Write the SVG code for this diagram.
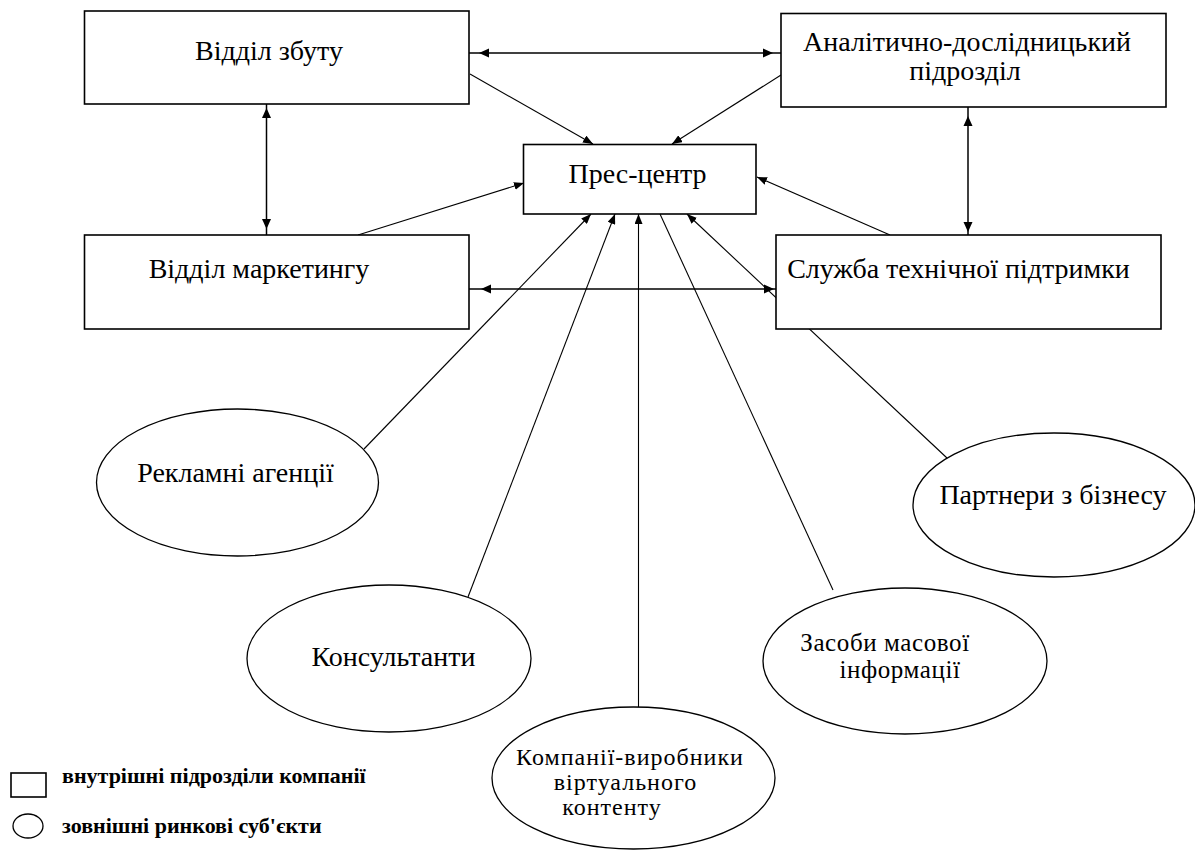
<svg xmlns="http://www.w3.org/2000/svg" xmlns:xlink="http://www.w3.org/1999/xlink" width="1195" height="850" viewBox="0 0 1195 850" font-family="Liberation Serif, Tinos, Times New Roman, DejaVu Serif, serif">
<style>
.box{fill:#fff;stroke:#000;stroke-width:1.6}
.ell{fill:#fff;stroke:#000;stroke-width:1.3}
.conn{fill:none;stroke:#000;stroke-width:1.1}
.dbl{fill:none;stroke:#000;stroke-width:1.5}
.t{font-size:28px;fill:#000;text-anchor:middle}
.z{font-size:25px;letter-spacing:0.6px}
.s{font-size:24px;letter-spacing:1px}
.lg{font-size:22px;font-weight:bold;fill:#000}
</style>
<defs>
<marker id="arr" viewBox="0 0 10 8" refX="10" refY="4" markerWidth="10" markerHeight="8" markerUnits="userSpaceOnUse" orient="auto">
<path d="M0,0 L10,4 L0,8 z" fill="#000"/>
</marker>
<path id="ah" d="M0,0 L-10,-4.5 L-10,4.5 z" fill="#000"/>
</defs>

<g id="connectors">
<line class="dbl" x1="469" y1="53" x2="781" y2="53"/>
<use xlink:href="#ah" transform="translate(479,53) rotate(180)"/>
<use xlink:href="#ah" transform="translate(773,53)"/>
<line class="dbl" x1="266.5" y1="104" x2="266.5" y2="235"/>
<use xlink:href="#ah" transform="translate(266.5,108) rotate(-90)"/>
<use xlink:href="#ah" transform="translate(266.5,229) rotate(90)"/>
<line class="dbl" x1="968" y1="107" x2="968" y2="235"/>
<use xlink:href="#ah" transform="translate(968,116) rotate(-90)"/>
<use xlink:href="#ah" transform="translate(968,232) rotate(90)"/>
<line class="dbl" x1="469" y1="289" x2="776" y2="289"/>
<use xlink:href="#ah" transform="translate(481,289) rotate(180)"/>
<use xlink:href="#ah" transform="translate(774,289)"/>
<line class="conn" x1="470" y1="74" x2="593" y2="144" marker-end="url(#arr)"/>
<line class="conn" x1="781" y1="75" x2="672" y2="144" marker-end="url(#arr)"/>
<line class="conn" x1="358" y1="235" x2="524" y2="183" marker-end="url(#arr)"/>
<line class="conn" x1="890" y1="235" x2="757" y2="177" marker-end="url(#arr)"/>
<line class="conn" x1="364" y1="449" x2="591" y2="214" marker-end="url(#arr)"/>
<line class="conn" x1="468" y1="597" x2="615" y2="214" marker-end="url(#arr)"/>
<line class="conn" x1="638.5" y1="707" x2="638.5" y2="214" marker-end="url(#arr)"/>
<line class="conn" x1="833" y1="590" x2="660" y2="214"/>
<line class="conn" x1="947" y1="458" x2="687" y2="214" marker-end="url(#arr)"/>
</g>

<g id="vidil-zbutu">
<rect class="box" x="84.5" y="11" width="384.5" height="93"/>
<text class="t" x="269" y="60">Відділ збуту</text>
</g>
<g id="analit">
<rect class="box" x="781" y="13.5" width="385" height="93.5"/>
<text class="t" x="967" y="51">Аналітично-дослідницький</text>
<text class="t" x="965" y="80">підрозділ</text>
</g>
<g id="pres-centr">
<rect class="box" x="523.5" y="144.5" width="232.5" height="69.5"/>
<text class="t" x="637.5" y="183">Прес-центр</text>
</g>
<g id="marketing">
<rect class="box" x="84.5" y="235" width="384.5" height="94"/>
<text class="t" x="259" y="278">Відділ маркетингу</text>
</g>
<g id="sluzhba">
<rect class="box" x="776" y="235" width="385" height="94"/>
<text class="t" x="958.5" y="278">Служба технічної підтримки</text>
</g>

<g id="reklamni">
<ellipse class="ell" cx="237.5" cy="482.5" rx="141" ry="73.5"/>
<text class="t" x="235.5" y="482">Рекламні агенції</text>
</g>
<g id="partnery">
<ellipse class="ell" cx="1054" cy="505" rx="141" ry="72"/>
<text class="t" x="1053" y="504">Партнери з бізнесу</text>
</g>
<g id="konsultanty">
<ellipse class="ell" cx="389" cy="658.5" rx="142" ry="73.5"/>
<text class="t" x="393.5" y="666">Консультанти</text>
</g>
<g id="zasoby">
<ellipse class="ell" cx="905" cy="661" rx="142" ry="73"/>
<text class="t z" x="885" y="651">Засоби масової</text>
<text class="t z" x="900" y="678">інформації</text>
</g>
<g id="kompanii">
<ellipse class="ell" cx="633.5" cy="778" rx="141.5" ry="71"/>
<text class="t s" x="630" y="765">Компанії-виробники</text>
<text class="t s" x="625.5" y="790">віртуального</text>
<text class="t s" x="612" y="815">контенту</text>
</g>

<g id="legend">
<rect class="box" x="11" y="773" width="35" height="24" stroke-width="1.3"/>
<text class="lg" x="62" y="783">внутрішні підрозділи компанії</text>
<ellipse class="ell" cx="28" cy="826" rx="15" ry="12"/>
<text class="lg" x="62" y="833">зовнішні ринкові суб'єкти</text>
</g>
</svg>
